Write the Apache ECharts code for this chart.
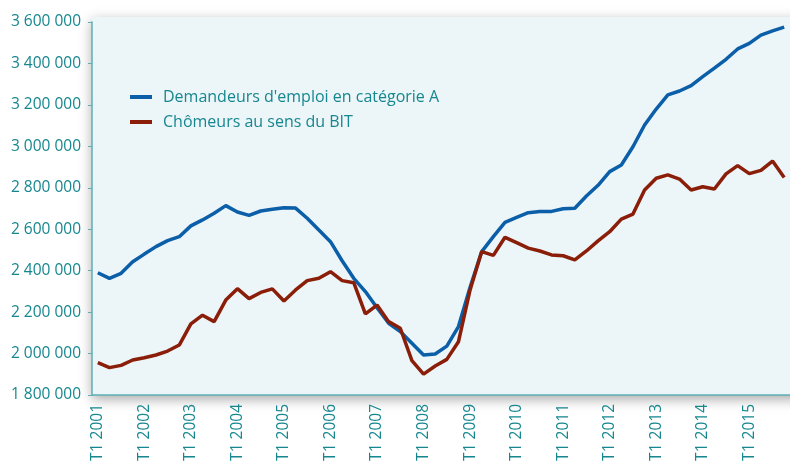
<!DOCTYPE html>
<html>
<head>
<meta charset="utf-8">
<script src="https://cdn.jsdelivr.net/npm/echarts@6/dist/echarts.min.js"></script>
<style>
  html, body { margin: 0; padding: 0; background: #fff; }
  #chart { width: 790px; height: 468px; }
</style>
</head>
<body>
<div id="chart"></div>
<script>
// quarters T1 2001 .. T4 2015
const years = [2001, 2002, 2003, 2004, 2005, 2006, 2007, 2008, 2009, 2010, 2011, 2012, 2013, 2014, 2015];
const quarters = [];
years.forEach(y => { for (let q = 1; q <= 4; q++) quarters.push('T' + q + ' ' + y); });

// demandeurs d'emploi en catégorie A
const demandeursA = [
  2390000, 2363000, 2387000, 2443000, 2480000, 2516000, 2545000, 2564000,
  2616000, 2645000, 2677000, 2714000, 2683000, 2667000, 2688000, 2696000,
  2704000, 2702000, 2653000, 2596000, 2540000, 2448000, 2363000, 2299000,
  2221000, 2146000, 2106000, 2050000, 1993000, 1998000, 2036000, 2130000,
  2320000, 2492000, 2564000, 2633000, 2657000, 2680000, 2686000, 2686000,
  2699000, 2701000, 2760000, 2812000, 2878000, 2910000, 2998000, 3103000,
  3180000, 3248000, 3267000, 3293000, 3336000, 3377000, 3420000, 3470000,
  3497000, 3537000, 3557000, 3575000
];

// chômeurs au sens du BIT
const chomeursBIT = [
  1956000, 1932000, 1943000, 1969000, 1980000, 1993000, 2012000, 2041000,
  2143000, 2185000, 2154000, 2258000, 2313000, 2265000, 2295000, 2312000,
  2254000, 2307000, 2352000, 2363000, 2395000, 2352000, 2342000, 2191000,
  2234000, 2154000, 2122000, 1966000, 1901000, 1940000, 1972000, 2057000,
  2307000, 2492000, 2474000, 2561000, 2535000, 2509000, 2495000, 2476000,
  2472000, 2452000, 2495000, 2544000, 2588000, 2649000, 2673000, 2789000,
  2846000, 2862000, 2842000, 2789000, 2805000, 2794000, 2867000, 2907000,
  2868000, 2884000, 2929000, 2850000
];

const teal = '#16878f';
const axisColor = '#5eaeb3';

const chart = echarts.init(document.getElementById('chart'));

chart.setOption({
  animation: false,
  textStyle: { fontFamily: 'Open Sans' },
  grid: { left: 92, top: 22, width: 711, height: 373 },
  graphic: [{
    type: 'rect',
    z: -10,
    shape: { x: 92, y: 17, width: 720, height: 378 },
    style: {
      fill: '#ecf5f8',
      shadowBlur: 12,
      shadowOffsetY: 4,
      shadowColor: 'rgba(0,0,0,0.35)'
    }
  }],
  legend: {
    left: 125,
    top: 84,
    orient: 'vertical',
    itemWidth: 22,
    itemHeight: 4,
    itemGap: 9,
    icon: 'rect',
    textStyle: {
      color: teal, fontSize: 16, lineHeight: 16,
      fontFamily: 'Open Sans', padding: [0, 0, 0, 6]
    },
    data: ["Demandeurs d'emploi en catégorie A", 'Chômeurs au sens du BIT']
  },
  xAxis: {
    type: 'category',
    data: quarters,
    boundaryGap: true,
    axisLine: { lineStyle: { color: axisColor, width: 1.5 } },
    axisTick: { interval: 3, length: 5, lineStyle: { color: axisColor } },
    axisLabel: {
      interval: 3,
      rotate: 90,
      margin: 9,
      color: teal,
      fontSize: 15.5
    }
  },
  yAxis: {
    type: 'value',
    min: 1800000,
    max: 3600000,
    interval: 200000,
    splitLine: { show: false },
    axisLine: { show: true, lineStyle: { color: axisColor, width: 1.5 } },
    axisTick: { show: true, length: 4, lineStyle: { color: axisColor } },
    axisLabel: {
      margin: 11,
      color: teal,
      fontSize: 15.5,
      formatter: v => String(v).replace(/\B(?=(\d{3})+(?!\d))/g, ' ')
    }
  },
  series: [
    {
      name: "Demandeurs d'emploi en catégorie A",
      type: 'line',
      data: demandeursA,
      symbol: 'none',
      color: '#0b5ea8',
      lineStyle: { width: 3.5, color: '#0b5ea8' }
    },
    {
      name: 'Chômeurs au sens du BIT',
      type: 'line',
      data: chomeursBIT,
      symbol: 'none',
      color: '#8a1e08',
      lineStyle: { width: 3.5, color: '#8a1e08' }
    }
  ]
});
</script>
</body>
</html>
